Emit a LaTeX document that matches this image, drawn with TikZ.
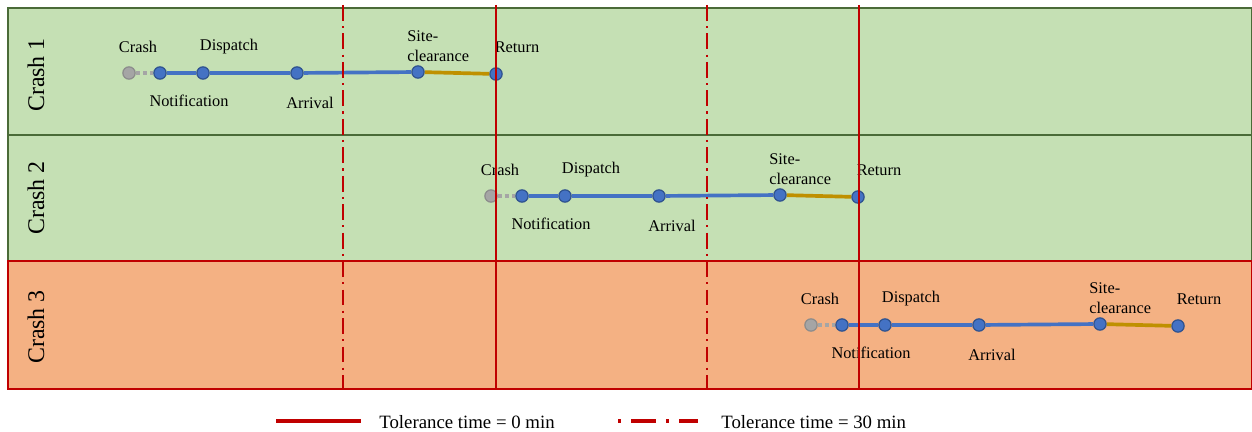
\documentclass[tikz,border=0pt]{standalone}
\usepackage{fontspec}
\setmainfont{Liberation Serif}
\definecolor{rowgreen}{HTML}{C5E0B4}
\definecolor{rowgreenline}{HTML}{4A6B38}
\definecolor{roworange}{HTML}{F4B183}
\definecolor{tolred}{HTML}{C00000}
\definecolor{evblue}{HTML}{4472C4}
\definecolor{evblueline}{HTML}{2F528F}
\definecolor{evgray}{HTML}{A5A5A5}
\definecolor{evgrayline}{HTML}{8C8C8C}
\definecolor{evgold}{HTML}{BF9000}
\begin{document}
\begin{tikzpicture}[x=0.02cm,y=-0.02cm,
  evpt/.style={circle,fill=evblue,draw=evblueline,line width=0.7pt,inner sep=0pt,minimum size=7pt},
  crashpt/.style={circle,fill=evgray,draw=evgrayline,line width=0.7pt,inner sep=0pt,minimum size=7pt},
  evlabel/.style={inner sep=0pt,font=\fontsize{9.3}{11.3}\selectfont},
  rowlabel/.style={rotate=90,inner sep=0pt,font=\fontsize{13.6}{16}\selectfont},
  legtext/.style={anchor=west,inner sep=0pt,font=\fontsize{10.7}{13}\selectfont},
  pending/.style={evgray,line width=2pt,dash pattern=on 2.2pt off 1.8pt},
  travel/.style={evblue,line width=2.1pt},
  clearing/.style={evgold,line width=2.1pt},
  tolzero/.style={tolred,line width=1.2pt},
  tolthirty/.style={tolred,line width=1.2pt,dash pattern=on 9pt off 3pt on 1.2pt off 3pt},
  legzero/.style={tolred,line width=2pt},
  legthirty/.style={tolred,line width=2pt,dash pattern=on 1.5pt off 6pt on 14pt off 6pt}]
\useasboundingbox (0,0) rectangle (1252,432);

% crash rows
\fill[rowgreen] (8,8) rectangle (1252,135);
\draw[rowgreenline,line width=0.9pt] (8,8) rectangle (1252,135);
\fill[rowgreen] (8,135) rectangle (1252,261);
\draw[rowgreenline,line width=0.9pt] (8,135) rectangle (1252,261);
\fill[roworange] (8,261) rectangle (1252,389);
\draw[tolred,line width=0.9pt] (8,261) rectangle (1252,389);

\node[rowlabel] (r1) at (36,75) {Crash 1};
\node[rowlabel] (r2) at (36,198) {Crash 2};
\node[rowlabel] (r3) at (36,327) {Crash 3};

% event timelines of the three crashes
\foreach \dx/\y/\k in {0/73/a, 362/196/b, 682/325/c}{
  \node[crashpt] (crash\k) at (129+\dx,\y) {};
  \node[evpt] (notif\k) at (160+\dx,\y) {};
  \node[evpt] (disp\k) at (203+\dx,\y) {};
  \node[evpt] (arr\k) at (297+\dx,\y) {};
  \node[evpt] (site\k) at (418+\dx,\y-1) {};
  \node[evpt] (ret\k) at (496+\dx,\y+1) {};
  \draw[pending] (crash\k) -- (notif\k);
  \draw[travel] (notif\k) -- (disp\k) -- (arr\k) -- (site\k);
  \draw[clearing] (site\k) -- (ret\k);
  \node[evlabel] (lcrash\k) at (138+\dx,\y-26) {Crash};
  \node[evlabel] (ldisp\k) at (229+\dx,\y-26) {Dispatch};
  \node[evlabel] (lnotif\k) at (189+\dx,\y+28) {Notification};
  \node[evlabel] (larr\k) at (310+\dx,\y+30) {Arrival};
  \node[evlabel,align=left,anchor=west] (lsite\k) at (407+\dx,\y-27) {Site-\\clearance};
  \node[evlabel] (lret\k) at (517+\dx,\y-26) {Return};
}

% tolerance time markers
\foreach \x/\k in {343/a, 707/b}{
  \coordinate (tt\k) at (\x,5);
  \coordinate (tb\k) at (\x,389);
  \draw[tolthirty] (tt\k) -- (tb\k);
}
\foreach \x/\k in {496/a, 859/b}{
  \coordinate (zt\k) at (\x,5);
  \coordinate (zb\k) at (\x,389);
  \draw[tolzero] (zt\k) -- (zb\k);
}

% legend
\coordinate (lz1) at (276,421);
\coordinate (lz2) at (361,421);
\draw[legzero] (lz1) -- (lz2);
\node[legtext] (legz) at (379,422) {Tolerance time = 0 min};
\coordinate (lt1) at (618,421);
\coordinate (lt2) at (698,421);
\draw[legthirty] (lt1) -- (lt2);
\node[legtext] (legt) at (721,422) {Tolerance time = 30 min};
\end{tikzpicture}
\end{document}
